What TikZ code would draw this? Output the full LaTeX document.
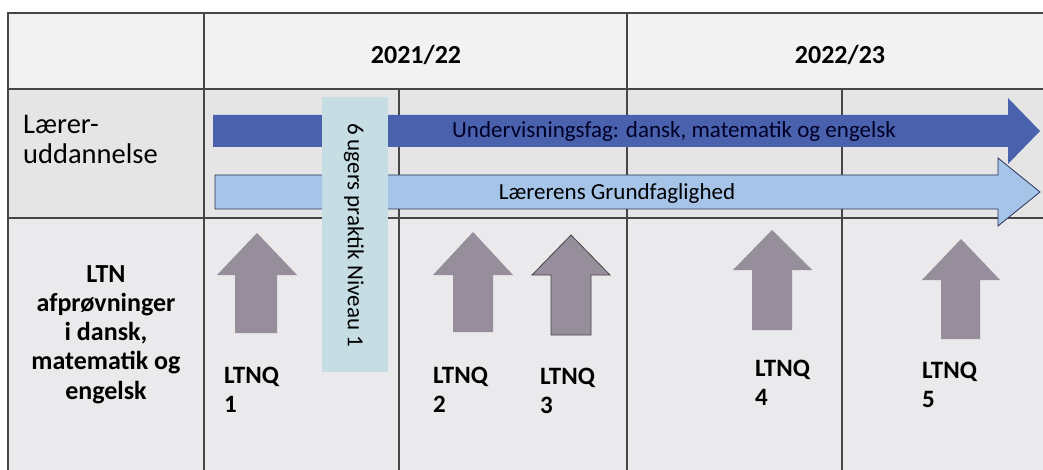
\documentclass[tikz,border=0pt]{standalone}
\usepackage{fontspec}
\setmainfont{Carlito}

\definecolor{headbg}{RGB}{242,242,242}
\definecolor{rowbg}{RGB}{229,229,229}
\definecolor{testbg}{RGB}{234,233,236}
\definecolor{tablegray}{RGB}{70,70,70}
\definecolor{ufagblue}{RGB}{74,98,174}
\definecolor{grundblue}{RGB}{166,196,232}
\definecolor{grundline}{RGB}{40,50,90}
\definecolor{praktikblue}{RGB}{197,221,227}
\definecolor{arrowgray}{RGB}{150,142,155}

\begin{document}
\begin{tikzpicture}[x=1pt, y=-1pt,
	gridline/.style={draw=tablegray, line width=1.3pt},
	testarrow/.style={fill=arrowgray},
	ltnqlabel/.style={font=\bfseries\fontsize{25}{29}\selectfont, align=left, anchor=north west, inner sep=0pt}]
			\useasboundingbox (0,0) rectangle (1043,470);

			% table background
			\fill[headbg] (8,13) rectangle (1043,89);
			\fill[rowbg] (8,89) rectangle (1043,218);
			\fill[testbg] (8,218) rectangle (1043,470);

			\draw[gridline] (1043,13) -- (8,13) -- (8,470);
			\draw[gridline] (8,89) -- (1043,89);
			\draw[gridline] (8,218) -- (1043,218);
			\draw[gridline] (204,13) -- (204,470);
			\draw[gridline] (627,13) -- (627,470);
			\draw[gridline] (399,89) -- (399,470);
			\draw[gridline] (842,89) -- (842,470);

			\node[font=\bfseries\fontsize{26}{30}\selectfont] (year1) at (416,55) {2021/22};
			\node[font=\bfseries\fontsize{26}{30}\selectfont] (year2) at (840,55) {2022/23};

			\node[font=\fontsize{28.5}{30}\selectfont, align=left, anchor=north west, inner sep=0pt] (uddannelse) at (23,115) {Lærer-\\uddannelse};
			\node[font=\bfseries\fontsize{26}{29.3}\selectfont, align=center, anchor=north, inner sep=0pt] (ltn) at (106,265) {LTN\\afprøvninger\\i dansk,\\matematik og\\engelsk};

			% the two long arrows
			\fill[ufagblue] (213,115) -- (1008,115) -- (1008,98) -- (1040,131) -- (1008,164) -- (1008,147) -- (213,147) -- cycle;
			\node[font=\fontsize{23}{26}\selectfont, text=black!85!blue] (ufag) at (674,131) {Undervisningsfag: dansk, matematik og engelsk};
			\filldraw[fill=grundblue, draw=grundline, line width=0.8pt] (215,175) -- (998,175) -- (998,158) -- (1040,192) -- (998,226) -- (998,209) -- (215,209) -- cycle;
			\node[font=\fontsize{23}{26}\selectfont] (grund) at (617,193) {Lærerens Grundfaglighed};

			% praktik
			\fill[praktikblue] (322,97) rectangle (388,372);
			\node[font=\fontsize{23}{26}\selectfont, rotate=-90] (praktik) at (354,235) {6 ugers praktik Niveau 1};

			% test arrows
			\fill[testarrow] (235,333) -- (235,275) -- (217,275) -- (257,233) -- (297,275) -- (277,275) -- (277,333) -- cycle;
			\fill[testarrow] (453,332) -- (453,275) -- (433,275) -- (473,232) -- (513,275) -- (493,275) -- (493,332) -- cycle;
			\filldraw[testarrow, draw=tablegray, line width=0.8pt] (551,335) -- (551,275) -- (532,275) -- (571,235) -- (610,275) -- (591,275) -- (591,335) -- cycle;
			\fill[testarrow] (752,330) -- (752,270) -- (733,270) -- (772,230) -- (812,270) -- (792,270) -- (792,330) -- cycle;
			\fill[testarrow] (941,339) -- (941,280) -- (922,280) -- (961,239) -- (1000,280) -- (980,280) -- (980,339) -- cycle;

			\node[ltnqlabel] (q1) at (224,367) {LTNQ\\1};
			\node[ltnqlabel] (q2) at (433,367) {LTNQ\\2};
			\node[ltnqlabel] (q3) at (540,368) {LTNQ\\3};
			\node[ltnqlabel] (q4) at (755,360) {LTNQ\\4};
			\node[ltnqlabel] (q5) at (922,362) {LTNQ\\5};
		\end{tikzpicture}
\end{document}
